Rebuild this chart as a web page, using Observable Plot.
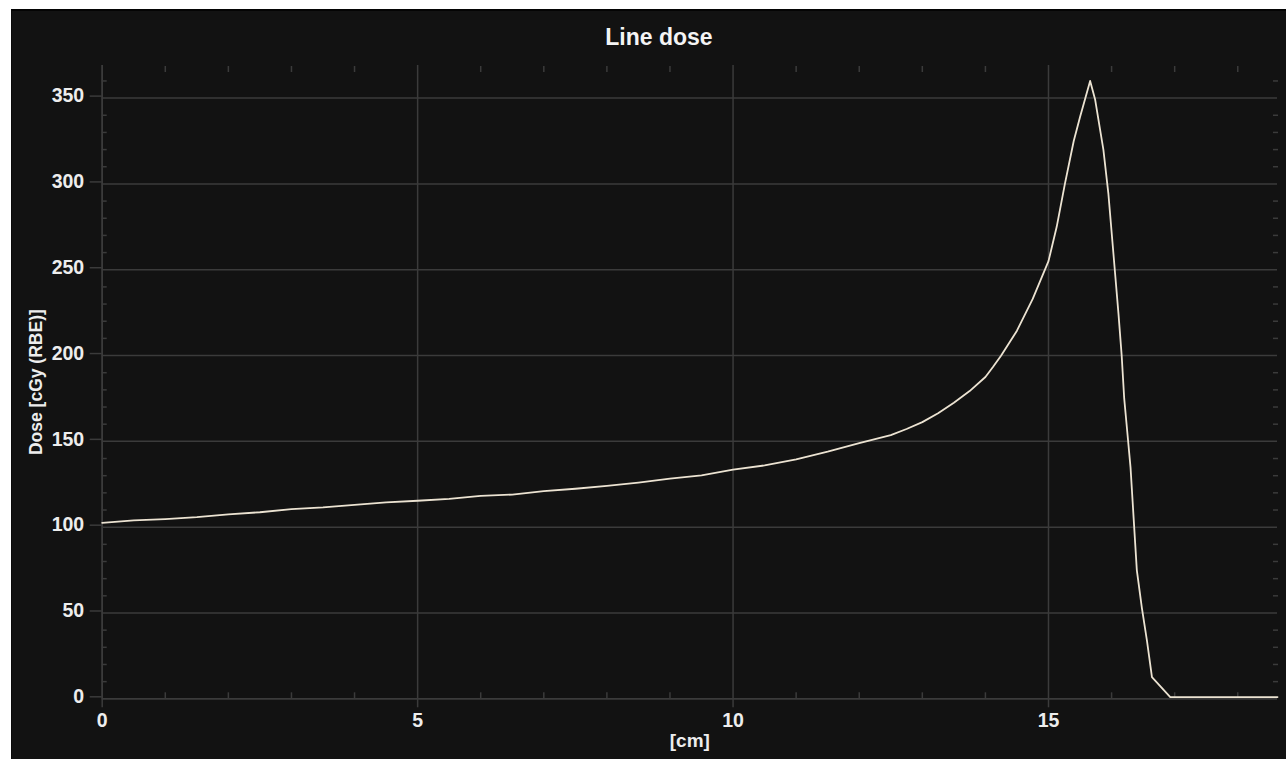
<!DOCTYPE html>
<html>
<head>
<meta charset="utf-8">
<script src="https://cdn.jsdelivr.net/npm/d3@7"></script>
<script src="https://cdn.jsdelivr.net/npm/@observablehq/plot@0.6"></script>
<style>
  html, body { margin: 0; padding: 0; background: #ffffff; overflow: hidden; }
  #panel { position: absolute; left: 11px; top: 9px; width: 1275px; height: 750px;
           background: #121212; border-top: 2px solid #040404; border-left: 1px solid #0a0a0a; box-sizing: border-box; }
  #chart { position: absolute; left: 0; top: 0; }
  #title { position: absolute; left: 559px; top: 24px; width: 200px; text-align: center;
           font: bold 23px "Liberation Sans", Arial, sans-serif; color: #f4f4f4; }
</style>
</head>
<body>
<div id="panel"></div>
<div id="title">Line dose</div>
<div id="chart"></div>
<script>
// Depth along the line (cm) and dose (cGy (RBE))
const depth = [0, 0.5, 1, 1.5, 2, 2.5, 3, 3.5, 4, 4.5, 5, 5.5, 6, 6.5, 7, 7.5, 8, 8.5, 9, 9.5,
  10, 10.5, 11, 11.5, 12, 12.5, 12.75, 13, 13.25, 13.5, 13.75, 14, 14.125, 14.25, 14.5, 14.75,
  15, 15.13, 15.26, 15.4, 15.5, 15.66, 15.74, 15.87, 15.95, 16.03, 16.11, 16.16, 16.2, 16.25,
  16.3, 16.35, 16.4, 16.48, 16.56, 16.64, 16.93, 18.63];
const dose = [102.5, 104, 104.7, 105.8, 107.4, 108.7, 110.5, 111.5, 113, 114.5, 115.4, 116.5,
  118.2, 119, 121, 122.4, 124.1, 126, 128.3, 130.2, 133.5, 136, 139.5, 144, 149, 153.6, 157.2,
  161.2, 166.4, 172.5, 179.3, 187.5, 193.6, 200, 214.5, 233, 255, 275, 300, 325, 339, 360, 349,
  320, 294, 259, 224, 200, 175, 155, 135, 105, 75, 53, 34, 12.6, 1, 1];

// Axis ticks
const xMajor = [0, 5, 10, 15];
const xMinor = [1, 2, 3, 4, 6, 7, 8, 9, 11, 12, 13, 14, 16, 17, 18];
const yMajor = [0, 50, 100, 150, 200, 250, 300, 350];
const yMinor = [10, 20, 30, 40, 60, 70, 80, 90, 110, 120, 130, 140, 160, 170, 180, 190,
  210, 220, 230, 240, 260, 270, 280, 290, 310, 320, 330, 340, 360];

const yTitle = "Dose [cGy (RBE)]";
const xTitle = "[cm]";

const rows = depth.map((x, i) => ({depth: x, dose: dose[i]}));

const gridColor = "#3b3b3b";
const textColor = "#ededed";

const chart = Plot.plot({
  width: 1286,
  height: 759,
  marginLeft: 101.7,
  marginRight: 9,
  marginTop: 65,
  marginBottom: 60.7,
  style: {
    background: "transparent",
    color: textColor,
    fontFamily: "'Liberation Sans', Arial, sans-serif",
    fontWeight: "bold"
  },
  x: {domain: [0, 18.63], label: null},
  y: {domain: [0, 369], label: null},
  marks: [
    Plot.gridX(xMajor, {stroke: gridColor, strokeOpacity: 1, strokeWidth: 1.5}),
    Plot.gridY(yMajor, {stroke: gridColor, strokeOpacity: 1, strokeWidth: 1.5}),
    Plot.ruleX([0], {stroke: gridColor, strokeWidth: 1.5}),
    Plot.ruleY([0], {stroke: gridColor, strokeWidth: 1.5}),
    // major ticks with labels
    Plot.axisX(xMajor, {anchor: "bottom", tickSize: 9, tickPadding: 5, stroke: gridColor,
      strokeWidth: 1.5, fill: textColor, fontSize: 19.5, label: null}),
    Plot.axisY(yMajor, {anchor: "left", tickSize: 12, tickPadding: 6, dy: -2, stroke: gridColor,
      strokeWidth: 1.5, fill: textColor, fontSize: 19.5, label: null}),
    // minor ticks pointing into the plot area
    Plot.axisX(xMinor, {anchor: "bottom", tickSize: 6, dy: -6, stroke: gridColor, strokeWidth: 1.5, fill: "none"}),
    Plot.axisX(xMinor, {anchor: "top", tickSize: 6, dy: 6, stroke: gridColor, strokeWidth: 1.5, fill: "none"}),
    Plot.axisY(yMinor, {anchor: "left", tickSize: 5, dx: 5, stroke: gridColor, strokeWidth: 1.5, fill: "none"}),
    Plot.axisY(yMinor, {anchor: "right", tickSize: 5, dx: -5, stroke: gridColor, strokeWidth: 1.5, fill: "none"}),
    // dose profile
    Plot.line(rows, {x: "depth", y: "dose", stroke: "#ece3d2", strokeWidth: 1.8}),
    // axis titles
    Plot.text([yTitle], {frameAnchor: "left", textAnchor: "middle", dx: -66, rotate: -90,
      fontSize: 17.5, fontWeight: "bold", fill: textColor}),
    Plot.text([xTitle], {frameAnchor: "bottom", dy: 48, fontSize: 19, fontWeight: "bold", fill: textColor})
  ]
});

document.getElementById("chart").appendChild(chart);
</script>
</body>
</html>
